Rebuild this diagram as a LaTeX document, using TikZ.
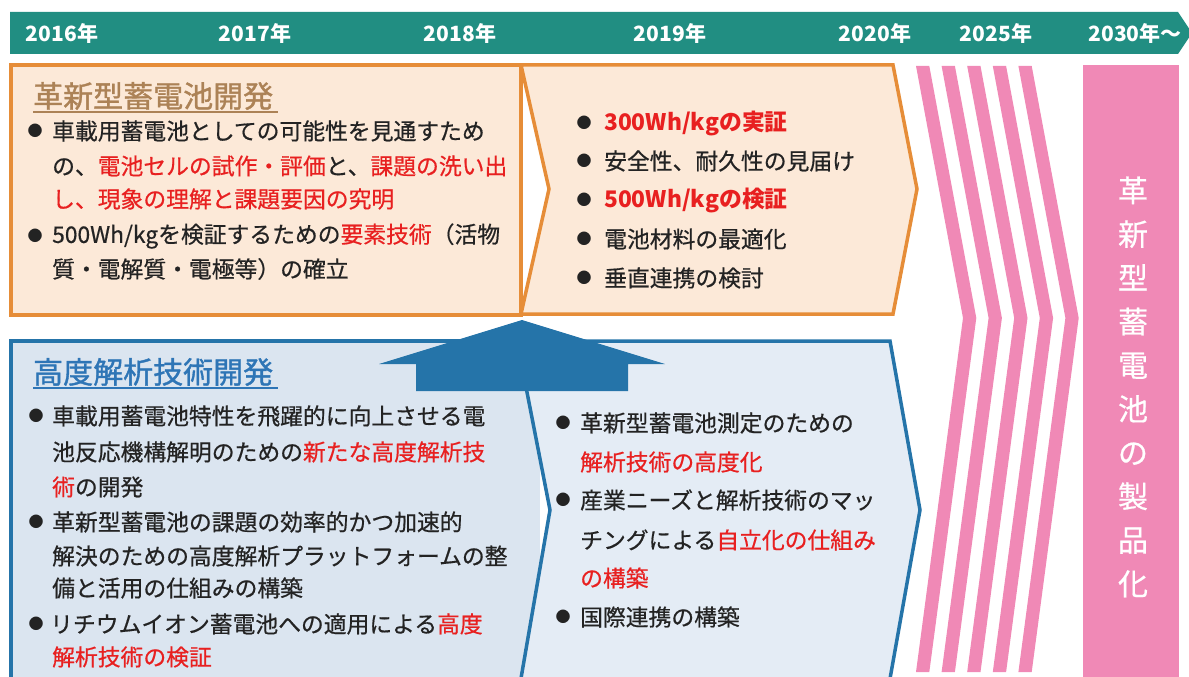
\documentclass[tikz,border=0pt]{standalone}
\usepackage{fontspec}
\setmainfont{Noto Sans CJK JP}
\newfontfamily\jpm[FakeBold=0.6]{Noto Sans CJK JP}
\newfontfamily\jpt[FakeBold=1.2]{Noto Sans CJK JP}
\definecolor{teal1}{RGB}{33,142,130}
\definecolor{orbd}{RGB}{230,141,56}
\definecolor{orfill}{RGB}{252,233,216}
\definecolor{blbd}{RGB}{37,116,169}
\definecolor{blfillA}{RGB}{219,229,240}
\definecolor{blfillB}{RGB}{228,236,245}
\definecolor{pink1}{RGB}{240,137,182}
\definecolor{myred}{RGB}{232,32,32}
\definecolor{txtblk}{RGB}{35,35,35}
\definecolor{brownt}{RGB}{172,130,86}
\definecolor{bluet}{RGB}{46,117,182}
\newcommand{\rd}[1]{\textcolor{myred}{#1}}
\begin{document}
\begin{tikzpicture}[x=1pt,y=-1pt,
  yr/.style={font=\bfseries\fontsize{21}{21}\selectfont, text=white, inner sep=0, anchor=center},
  body/.style={font=\jpm\fontsize{22.8}{22.8}\selectfont, text=txtblk, inner sep=0, anchor=west},
  bodyb/.style={font=\bfseries\fontsize{22.8}{22.8}\selectfont, text=myred, inner sep=0, anchor=west},
  bul/.style={font=\fontsize{15}{15}\selectfont, text=txtblk, inner sep=0, anchor=center},
  ttl/.style={font=\jpt\fontsize{30}{30}\selectfont, inner sep=0, anchor=west},
  obox/.style={draw=orbd, fill=orfill, line width=3.5pt, line join=miter},
  bbox/.style={draw=blbd, line width=3.5pt, line join=miter},
  stripe/.style={fill=pink1, draw=none}]
\useasboundingbox (0,0) rectangle (1189,677);
% timeline bar
\fill[teal1] (10,12) -- (1178,12) -- (1192,33) -- (1178,54) -- (10,54) -- cycle;
\node[yr] (y16) at (62,33) {2016年};
\node[yr] (y17) at (255,33) {2017年};
\node[yr] (y18) at (460,33) {2018年};
\node[yr] (y19) at (670,33) {2019年};
\node[yr] (y20) at (875,33) {2020年};
\node[yr] (y25) at (996,33) {2025年};
\node[yr] (y30) at (1135,33) {2030年～};
% orange boxes
\draw[obox] (11,65) rectangle (521,315);
\draw[obox] (521,65) -- (893,65) -- (917,189) -- (893,314) -- (521,314) -- (549,189) -- cycle;
% blue boxes
\fill[blfillA] (11,341) rectangle (540,690);
\draw[bbox] (11,690) -- (11,341) -- (522,341);
\draw[bbox, fill=blfillB] (517,341) -- (890,341) -- (920,510) -- (888,690) -- (519,690) -- (550,510) -- cycle;
% up arrow
\fill[blbd] (522,320) -- (665,364) -- (628,364) -- (628,391) -- (416,391) -- (416,364) -- (379,364) -- cycle;
% pink stripes
\foreach \i in {0,...,4}{
  \pgfmathsetmacro{\xa}{916+25.6*\i}
  \fill[stripe] (\xa,66) -- (\xa+13.3,66) -- (\xa+60.3,318) -- (\xa+13.3,672) -- (\xa,672) -- (\xa+47,318) -- cycle;
}
\fill[pink1] (1083,65) rectangle (1179,677);
\node[font=\jpm\fontsize{30}{43.7}\selectfont, text=white, align=center, inner sep=0] (prod) at (1133,387)
  {革\\新\\型\\蓄\\電\\池\\の\\製\\品\\化};
% orange left text
\node[ttl, text=brownt] (t1) at (33,96) {革新型蓄電池開発};
\draw[brownt, line width=1.2pt] (33,112) -- (278,112);
\node[bul] (b11) at (35,131) {●};
\node[body] (l11) at (52,131) {車載用蓄電池としての可能性を見通すため};
\node[body] (l12) at (52,166) {の、\rd{電池セルの試作・評価}と、\rd{課題の洗い出}};
\node[body] (l13) at (52,199) {\rd{し、現象の理解と課題要因の究明}};
\node[bul] (b12) at (35,236) {●};
\node[body] (l14) at (52,236) {500Wh/kgを検証するための\rd{要素技術}（活物};
\node[body] (l15) at (52,269) {質・電解質・電極等）の確立};
% orange right text
\node[bul] (b21) at (584,123) {●};
\node[bodyb] (r21) at (604,123) {300Wh/kgの実証};
\node[bul] (b22) at (584,161) {●};
\node[body] (r22) at (604,161) {安全性、耐久性の見届け};
\node[bul] (b23) at (584,200) {●};
\node[bodyb] (r23) at (604,200) {500Wh/kgの検証};
\node[bul] (b24) at (584,239) {●};
\node[body] (r24) at (604,239) {電池材料の最適化};
\node[bul] (b25) at (584,278) {●};
\node[body] (r25) at (604,278) {垂直連携の検討};
% blue left text
\node[ttl, text=bluet] (t2) at (33,372) {高度解析技術開発};
\draw[bluet, line width=1.2pt] (33,388) -- (278,388);
\node[bul] (b31) at (36,416) {●};
\node[body] (l31) at (52,416) {車載用蓄電池特性を飛躍的に向上させる電};
\node[body] (l32) at (52,452) {池反応機構解明のための\rd{新たな高度解析技}};
\node[body] (l33) at (52,487) {\rd{術}の開発};
\node[bul] (b32) at (36,522) {●};
\node[body] (l34) at (52,522) {革新型蓄電池の課題の効率的かつ加速的};
\node[body] (l35) at (52,556) {解決のための高度解析プラットフォームの整};
\node[body] (l36) at (52,588) {備と活用の仕組みの構築};
\node[bul] (b33) at (36,624) {●};
\node[body] (l37) at (50,624) {リチウムイオン蓄電池への適用による\rd{高度}};
\node[body] (l38) at (52,657) {\rd{解析技術の検証}};
% blue right text
\node[bul] (b41) at (563,423) {●};
\node[body] (r41) at (580,423) {革新型蓄電池測定のための};
\node[body] (r42) at (580,462) {\rd{解析技術の高度化}};
\node[bul] (b42) at (563,500) {●};
\node[body] (r43) at (580,500) {産業ニーズと解析技術のマッ};
\node[body] (r44) at (580,540) {チングによる\rd{自立化の仕組み}};
\node[body] (r45) at (580,578) {\rd{の構築}};
\node[bul] (b43) at (563,617) {●};
\node[body] (r46) at (580,617) {国際連携の構築};
\end{tikzpicture}
\end{document}
